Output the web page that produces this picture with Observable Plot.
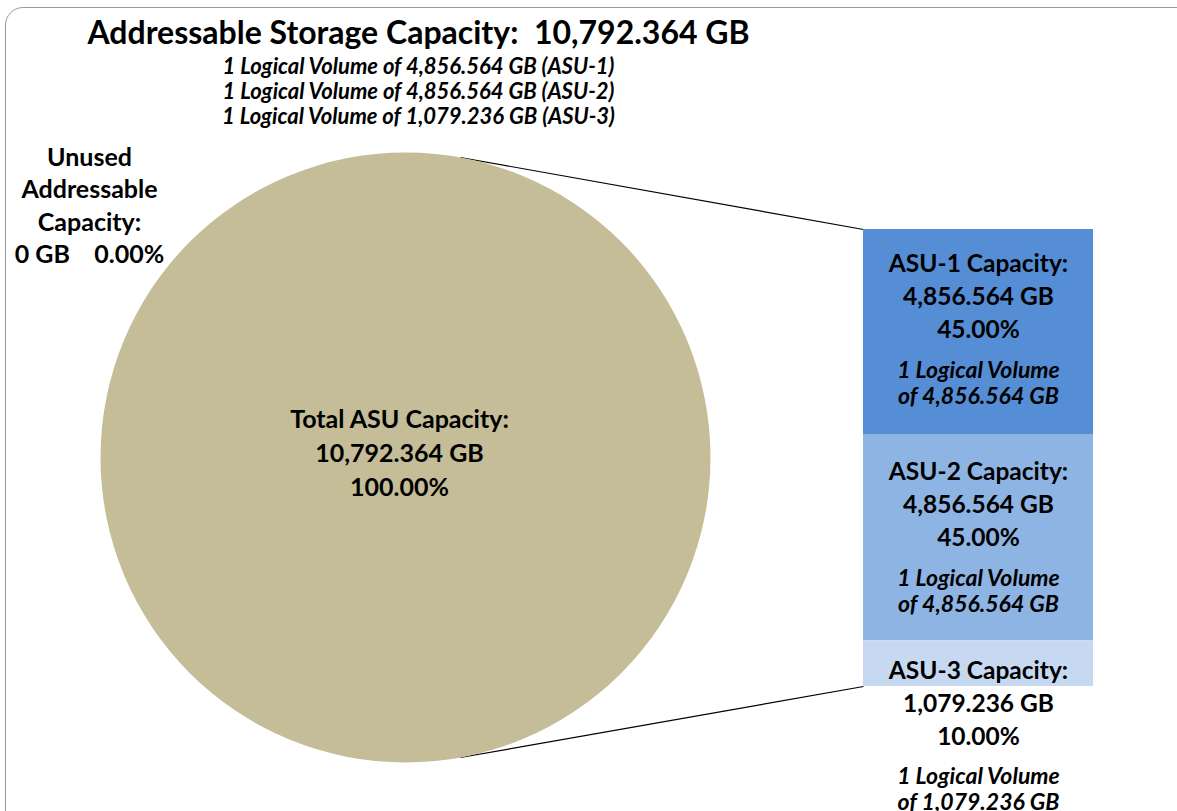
<!DOCTYPE html>
<html>
<head>
<meta charset="utf-8">
<script src="https://cdn.jsdelivr.net/npm/d3@7"></script>
<script src="https://cdn.jsdelivr.net/npm/@observablehq/plot@0.6"></script>
<style>
  html, body { margin: 0; padding: 0; background: #fff; overflow: hidden; }
  #wrap { position: relative; width: 1177px; height: 811px; overflow: hidden; }
  #frame { position: absolute; left: 5px; top: 7px; width: 1200px; height: 860px;
           border: 1.5px solid #9a9a9a; border-radius: 18px; box-sizing: border-box; }
  #chart { position: absolute; left: 0; top: 0; }
  svg { font-family: Lato, "Open Sans", sans-serif; }
</style>
</head>
<body>
<div id="wrap"><div id="frame"></div><div id="chart"></div></div>
<script>
// ---- data ----
const titleText = "Addressable Storage Capacity:  10,792.364 GB";
const segments = ["ASU-1", "ASU-2", "ASU-3"];
const capacities = [4856.564, 4856.564, 1079.236];
const percents = [45.00, 45.00, 10.00];
const volumeCounts = [1, 1, 1];
const totalCapacity = 10792.364;
const unusedCapacity = 0;
const unusedPercent = 0.00;
const segmentColors = ["#558ed5", "#8eb4e3", "#c6d9f1"];
const pieColor = "#c4bd97";

// ---- layout ----
const W = 1177, H = 811;
const fmt = d3.format(",.3f");
const pct = d => d.toFixed(2) + "%";
const pie = {cx: 405, cy: 457, r: 305};
const bar = {x1: 863, x2: 1093, top: 229, bottom: 686, cx: 978};
const yBar = d3.scaleLinear([0, d3.sum(capacities)], [bar.top, bar.bottom]);
const cum = [0, ...d3.cumsum(capacities)];
const barData = segments.map((s, i) => ({
  seg: s, y1: yBar(cum[i]), y2: yBar(cum[i + 1]), cap: capacities[i], pct: percents[i], n: volumeCounts[i]
}));

// bar labels
const labelStart = [35, 37, 30];
const lineOff = [0, 33, 66, 106, 132];
const barLabels = [];
barData.forEach((d, i) => {
  const t = d.y1 + labelStart[i];
  barLabels.push({y: t + lineOff[0], text: `${d.seg} Capacity:`, italic: false});
  barLabels.push({y: t + lineOff[1], text: `${fmt(d.cap)} GB`, italic: false});
  barLabels.push({y: t + lineOff[2], text: pct(d.pct), italic: false});
  barLabels.push({y: t + lineOff[3], text: `${d.n} Logical Volume`, italic: true});
  barLabels.push({y: t + lineOff[4], text: `of ${fmt(d.cap)} GB`, italic: true});
});

const subtitleLines = segments.map((s, i) => `${volumeCounts[i]} Logical Volume of ${fmt(capacities[i])} GB (${s})`);
const unusedLines = ["Unused", "Addressable", "Capacity:", `${unusedCapacity} GB    ${pct(unusedPercent)}`];
const centerLines = ["Total ASU Capacity:", `${fmt(totalCapacity)} GB`, pct(100 * totalCapacity / totalCapacity)];

// connector lines: from pie edge to bar corners
const connectors = [
  {x1: 460, y1: pie.cy - Math.sqrt(pie.r ** 2 - 55 ** 2), x2: bar.x1, y2: bar.top},
  {x1: 460, y1: pie.cy + Math.sqrt(pie.r ** 2 - 55 ** 2), x2: bar.x1, y2: bar.bottom}
];

const chart = Plot.plot({
  width: W, height: H, margin: 0,
  x: {domain: [0, W], range: [0, W], axis: null},
  y: {domain: [0, H], range: [0, H], axis: null},
  r: {type: "linear", domain: [0, totalCapacity], range: [0, pie.r]},
  color: {domain: segments, range: segmentColors},
  marks: [
    Plot.link(connectors, {x1: "x1", y1: "y1", x2: "x2", y2: "y2", stroke: "#000", strokeWidth: 1.2}),
    Plot.dot([{v: totalCapacity}], {x: () => pie.cx, y: () => pie.cy, r: "v", fill: pieColor, stroke: "none"}),
    Plot.rect(barData, {x1: () => bar.x1, x2: () => bar.x2, y1: "y1", y2: "y2", fill: "seg"}),
    Plot.text([titleText], {x: () => 418, y: () => 33, text: d => d, fontSize: 32, fontWeight: "bold", fill: "#000"}),
    Plot.text(subtitleLines, {x: () => 418, y: (d, i) => 66 + i * 25, text: d => d, fontSize: 22, fontStyle: "italic", fontWeight: "bold", fill: "#000"}),
    Plot.text(unusedLines, {x: () => 89, y: (d, i) => 157 + i * 32.5, text: d => d, fontSize: 25, fontWeight: "bold", fill: "#000"}),
    Plot.text(centerLines, {x: () => 399, y: (d, i) => 419 + i * 34, text: d => d, fontSize: 25, fontWeight: "bold", fill: "#000"}),
    Plot.text(barLabels.filter(d => !d.italic), {x: () => bar.cx, y: "y", text: "text", fontSize: 24.5, fontWeight: "bold", fill: "#000"}),
    Plot.text(barLabels.filter(d => d.italic), {x: () => bar.cx, y: "y", text: "text", fontSize: 23, fontWeight: "bold", fontStyle: "italic", fill: "#000"})
  ]
});
document.getElementById("chart").appendChild(chart);
</script>
</body>
</html>
